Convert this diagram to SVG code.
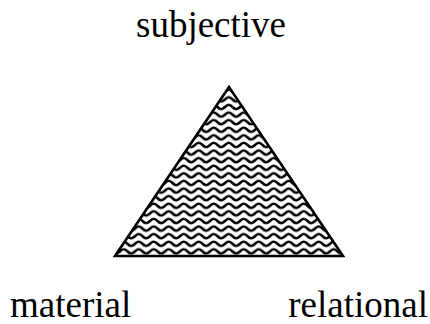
<svg xmlns="http://www.w3.org/2000/svg" width="430" height="324" viewBox="0 0 430 324">
<style>
.lbl{font-family:"Liberation Serif","Times New Roman",serif;font-size:37px;fill:#000}
</style>
<defs>
<pattern id="wave" patternUnits="userSpaceOnUse" x="0" y="88" width="15" height="7.6">
<path d="M-15,3.8 Q-11.25,-0.4 -7.5,3.8 T0,3.8 T7.5,3.8 T15,3.8 T22.5,3.8 T30,3.8" fill="none" stroke="#000" stroke-width="2.5"/>
</pattern>
</defs>
<rect width="430" height="324" fill="#fff"/>
<g id="triangle">
<polygon points="229,87 115,256 343,256" fill="url(#wave)" stroke="#000" stroke-width="2.6" stroke-linejoin="miter"/>
</g>
<g id="subjective"><text class="lbl" x="211" y="37" text-anchor="middle">subjective</text></g>
<g id="material"><text class="lbl" x="10" y="317">material</text></g>
<g id="relational"><text class="lbl" x="428" y="317" text-anchor="end">relational</text></g>
<g id="connectors"></g>
</svg>
